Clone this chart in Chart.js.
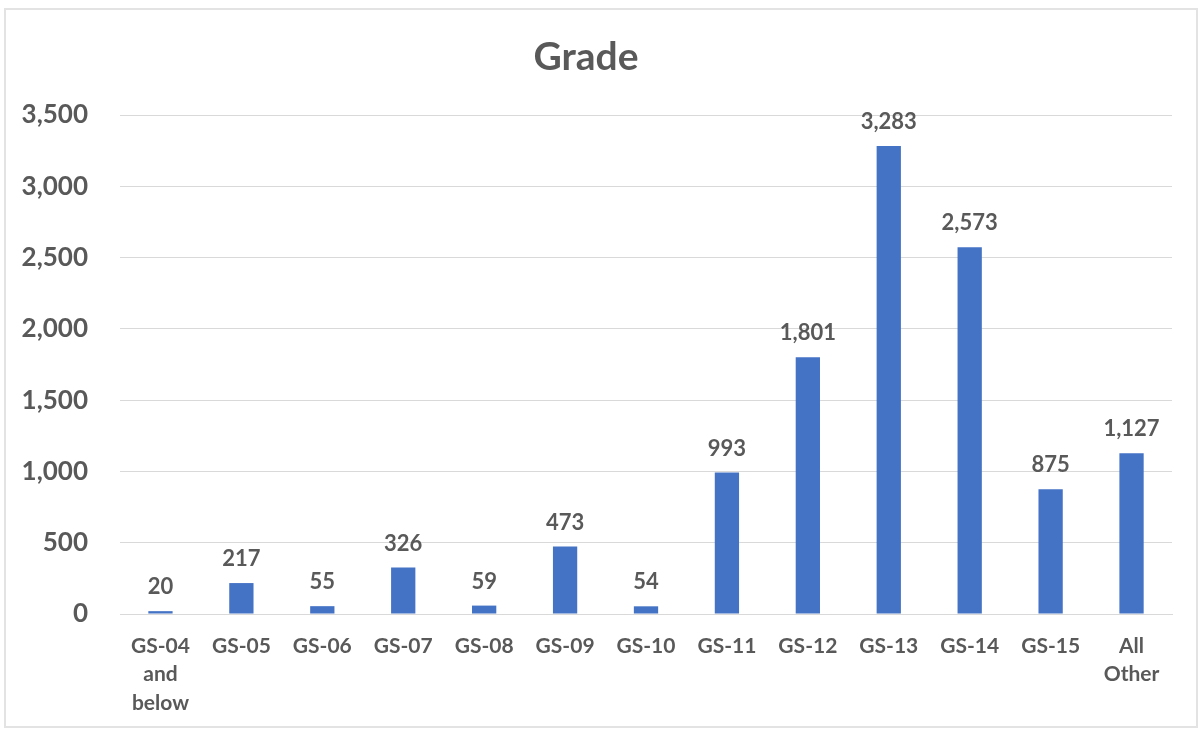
<!DOCTYPE html>
<html>
<head>
<meta charset="utf-8">
<script src="https://cdn.jsdelivr.net/npm/chart.js@4/dist/chart.umd.min.js"></script>
<style>
html,body{margin:0;padding:0;background:#fff;}
#wrap{position:absolute;left:0;top:0;width:1204px;height:734px;}
#frame{position:absolute;left:4px;top:8px;width:1194px;height:720px;border:2px solid #e3e3e3;box-sizing:border-box;}
canvas{position:absolute;left:0;top:0;}
</style>
</head>
<body>
<div id="wrap">
<div id="frame"></div>
<canvas id="c" width="1204" height="734"></canvas>
</div>
<script>
const categories = [["GS-04","and","below"],"GS-05","GS-06","GS-07","GS-08","GS-09","GS-10","GS-11","GS-12","GS-13","GS-14","GS-15",["All","Other"]];
const values = [20,217,55,326,59,473,54,993,1801,3283,2573,875,1127];
const yTicks = [0,500,1000,1500,2000,2500,3000,3500];
const titleText = "Grade";

const FONT = "Lato, 'Open Sans', sans-serif";
const TXT = "#595959";

const valueLabels = {
  id: 'valueLabels',
  afterDatasetsDraw(chart){
    const ctx = chart.ctx;
    const meta = chart.getDatasetMeta(0);
    ctx.save();
    ctx.font = "bold 22px " + FONT;
    ctx.fillStyle = TXT;
    ctx.textAlign = 'center';
    ctx.textBaseline = 'bottom';
    meta.data.forEach((bar,i)=>{
      ctx.fillText(values[i].toLocaleString('en-US'), bar.x, bar.y - 13);
    });
    ctx.restore();
  }
};

new Chart(document.getElementById('c'), {
  type: 'bar',
  data: {
    labels: categories,
    datasets: [{
      data: values,
      backgroundColor: '#4472C4',
      borderWidth: 0,
      barPercentage: 0.3,
      categoryPercentage: 1.0
    }]
  },
  options: {
    responsive: false,
    animation: false,
    devicePixelRatio: 1,
    layout: { padding: { left: 0, right: 32, top: 0, bottom: -1 } },
    plugins: {
      legend: { display: false },
      tooltip: { enabled: false },
      title: {
        display: true,
        text: titleText,
        color: TXT,
        font: { family: FONT, size: 39, weight: 'bold', lineHeight: 1.2 },
        padding: { top: 33.6, bottom: 34.6 }
      }
    },
    scales: {
      x: {
        grid: { display: false, drawTicks: false },
        border: { display: true, color: '#d9d9d9', width: 1 },
        ticks: {
          color: TXT,
          font: { family: FONT, size: 21, weight: 'bold', lineHeight: 1.357 },
          padding: 17.75,
          maxRotation: 0,
          autoSkip: false
        }
      },
      y: {
        min: 0,
        max: 3500,
        afterFit(scale){ scale.width = 120; },
        afterBuildTicks(scale){ scale.ticks = yTicks.map(v=>({value:v})); },
        grid: { color: '#d9d9d9', drawTicks: false, lineWidth: 1 },
        border: { display: false },
        ticks: {
          color: TXT,
          font: { family: FONT, size: 26, weight: 'bold' },
          padding: 32,
          callback: v => v.toLocaleString('en-US')
        }
      }
    }
  },
  plugins: [valueLabels]
});
</script>
</body>
</html>
